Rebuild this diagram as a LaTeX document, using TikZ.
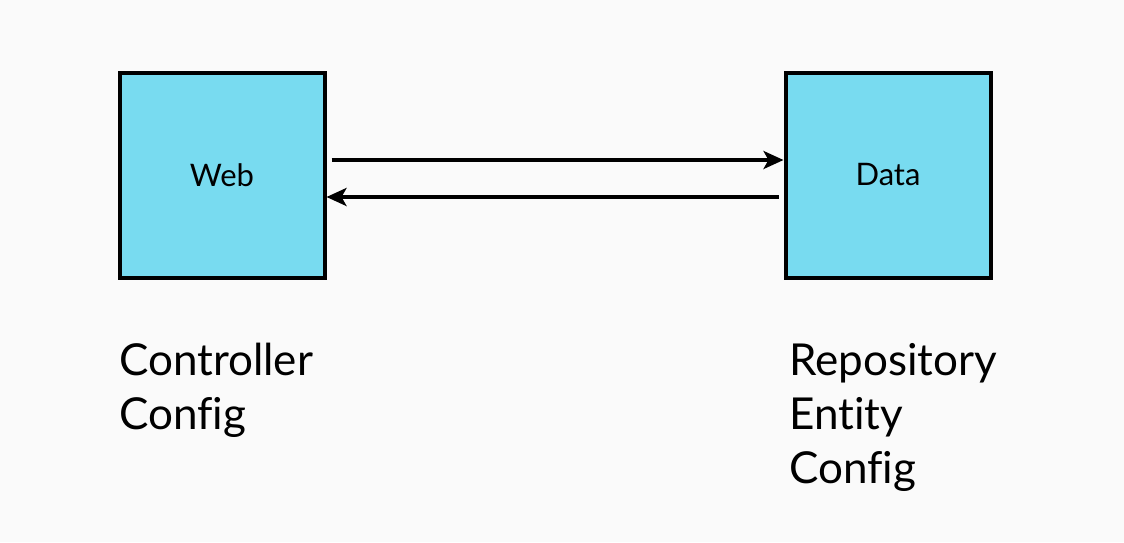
\documentclass[tikz,border=0pt]{standalone}
\usepackage{fontspec}
\setmainfont{Lato}[Ligatures={NoCommon}]
\usetikzlibrary{arrows.meta}
\definecolor{bg}{HTML}{FAFAFA}
\definecolor{boxfill}{HTML}{78DBF0}
\tikzset{
  comp/.style={draw=black, line width=4pt, fill=boxfill, minimum width=205pt, minimum height=205pt, inner sep=0pt, font=\fontsize{31}{36}\selectfont},
  flow/.style={line width=3.5pt, -{Stealth[length=20pt,width=18pt,inset=5pt]}},
  lbl/.style={anchor=north west, inner sep=0pt, align=left, font=\fontsize{44}{54}\selectfont},
}
\begin{document}
\begin{tikzpicture}[x=1pt,y=-1pt]
\fill[bg] (0,0) rectangle (1124,542);
\useasboundingbox (0,0) rectangle (1124,542);
\node[comp] (web) at (222,175) {\raisebox{-3pt}{Web}};
\node[comp] (data) at (888,175) {\raisebox{-3pt}{Data}};
\draw[flow] ([xshift=5pt]web.east |- 0,160) coordinate (a1) -- (data.west |- a1);
\draw[flow] ([xshift=-5pt]data.west |- 0,197) coordinate (a2) -- (web.east |- a2);
\node[lbl] (wl) at (119,343) {Controller\\Config};
\node[lbl] (dl) at (789,343) {Repository\\Entity\\Config};
\end{tikzpicture}
\end{document}
